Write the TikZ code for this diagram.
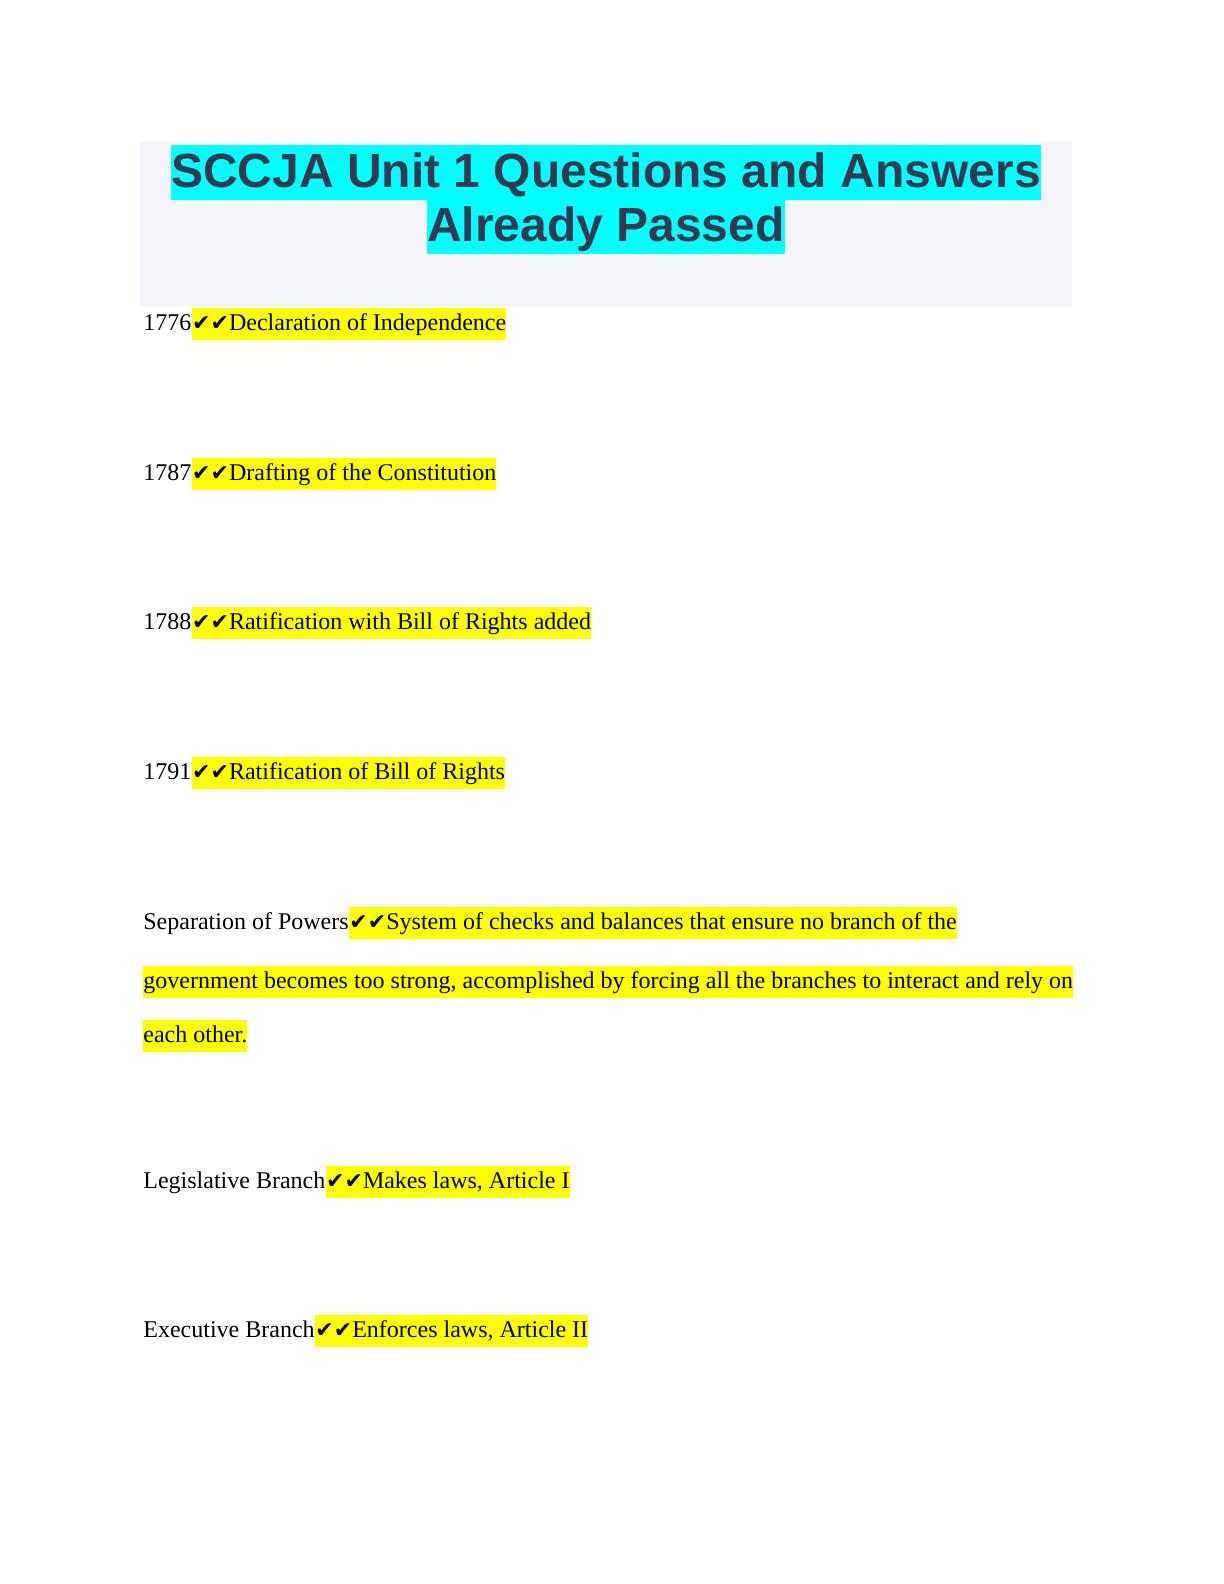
\documentclass[tikz,border=0pt]{standalone}
\usepackage{fontspec}
\setmainfont{Liberation Serif}
\newfontfamily\titlefont{Liberation Sans}
\newfontfamily\chk{DejaVu Sans}
\definecolor{titlebg}{HTML}{F4F5F9}
\definecolor{titlefg}{HTML}{333A50}
\definecolor{hlcyan}{HTML}{00FFFF}
\definecolor{hlyel}{HTML}{FFFF00}
\newcommand{\ck}{{\chk\fontsize{11pt}{13pt}\selectfont ✔✔}}
\begin{document}
\begin{tikzpicture}[x=1pt,y=1pt,
  body/.style={inner sep=0pt,anchor=base west,font=\fontsize{12pt}{14pt}\selectfont},
  hl/.style={body,fill=hlyel,text height=11pt,text depth=5pt},
  ttl/.style={inner sep=0pt,anchor=base,fill=hlcyan,text=titlefg,text height=21pt,text depth=6.5pt,font=\titlefont\bfseries\fontsize{24pt}{28pt}\selectfont}]
\useasboundingbox (0,0) rectangle (612,-792);
\fill[titlebg] (70,-71) rectangle (536,-153);
\node[ttl] (t1) at (303,-93.5) {SCCJA Unit 1 Questions and Answers};
\node[ttl] (t2) at (303,-120.5) {Already Passed};
\node[body] (q1) at (71.5,-165) {1776\ };
\node[hl] (a1) at (q1.base east) {\ck Declaration of Independence};
\node[body] (q2) at (71.5,-240) {1787\ };
\node[hl] (a2) at (q2.base east) {\ck Drafting of the Constitution};
\node[body] (q3) at (71.5,-314.5) {1788\ };
\node[hl] (a3) at (q3.base east) {\ck Ratification with Bill of Rights added};
\node[body] (q4) at (71.5,-389.5) {1791\ };
\node[hl] (a4) at (q4.base east) {\ck Ratification of Bill of Rights};
\node[body] (q5) at (71.5,-464.5) {Separation of Powers\ };
\node[hl] (a5) at (q5.base east) {\ck System of checks and balances that ensure no branch of the};
\node[hl] (a5b) at (71.5,-494) {government becomes too strong, accomplished by forcing all the branches to interact and rely on};
\node[hl] (a5c) at (71.5,-521) {each other.};
\node[body] (q6) at (71.5,-594) {Legislative Branch\ };
\node[hl] (a6) at (q6.base east) {\ck Makes laws, Article I};
\node[body] (q7) at (71.5,-668.5) {Executive Branch\ };
\node[hl] (a7) at (q7.base east) {\ck Enforces laws, Article II};
\end{tikzpicture}
\end{document}
